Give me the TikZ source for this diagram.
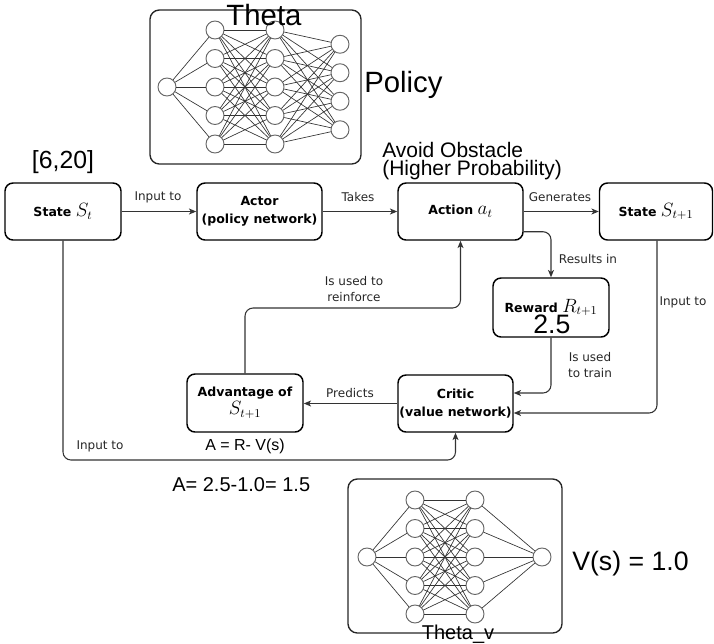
\documentclass[tikz,border=0pt]{standalone}
\usepackage{fontspec}
\setmainfont{Liberation Sans}
\newfontfamily\comic{DejaVu Sans}
\usetikzlibrary{arrows.meta,calc}
\newdimen\px \px=0.75pt
\newcommand{\mth}[1]{{\fontsize{13.5pt}{15pt}\selectfont$#1$}}
\tikzset{
  box/.style={draw=black, line width=1.1pt, rounded corners=6pt, fill=white, inner sep=0pt,
    align=center, font=\comic\bfseries\fontsize{9.4pt}{13.5pt}\selectfont},
  nnbox/.style={draw=black!85, line width=1pt, rounded corners=7pt},
  conn/.style={draw=black!80, line width=0.8pt, rounded corners=6pt, -{Stealth[length=5.5pt,width=4.5pt,inset=1.5pt]}},
  elabel/.style={font=\comic\fontsize{9pt}{12pt}\selectfont, text=black!85, align=center, inner sep=0pt},
  neuron/.style={circle, draw=black!60, line width=0.7pt, fill=white, minimum size=18\px, inner sep=0pt},
  syn/.style={draw=black!80, line width=0.5pt},
  big/.style={inner sep=0pt, font=\fontsize{22pt}{26pt}\selectfont},
}
\begin{document}
\begin{tikzpicture}[x=0.75pt,y=-0.75pt]
\useasboundingbox (0,0) rectangle (714,643);

% ---------- top policy network ----------
\node[nnbox, minimum width=211\px, minimum height=154\px, inner sep=0pt] (pnet) at (255.5,87) {};
\node[neuron] (pi) at (167,87) {};
\foreach \i/\y in {1/30,2/58.5,3/87,4/115.5,5/144}{
  \node[neuron] (pa\i) at (215,\y) {};
  \node[neuron] (pb\i) at (275,\y) {};
}
\foreach \i/\y in {1/44.25,2/72.75,3/101.25,4/129.75}{
  \node[neuron] (pc\i) at (340,\y) {};
}
\foreach \i in {1,...,5}{
  \draw[syn] (pi) -- (pa\i);
  \foreach \j in {1,...,5}{ \draw[syn] (pa\i) -- (pb\j); }
  \foreach \j in {1,...,4}{ \draw[syn] (pb\i) -- (pc\j); }
}
\node[big, anchor=base] (theta) at (264,25) {Theta};
\node[big, anchor=base west] (policy) at (364,92) {Policy};

% ---------- bottom value network ----------
\node[nnbox, minimum width=214\px, minimum height=154\px, inner sep=0pt] (vnet) at (455,556) {};
\node[neuron] (vi) at (367,557) {};
\node[neuron] (vo) at (542,557) {};
\foreach \i/\y in {1/500,2/528.5,3/557,4/585.5,5/614}{
  \node[neuron] (va\i) at (415,\y) {};
  \node[neuron] (vb\i) at (475,\y) {};
}
\foreach \i in {1,...,5}{
  \draw[syn] (vi) -- (va\i);
  \draw[syn] (vb\i) -- (vo);
  \foreach \j in {1,...,5}{ \draw[syn] (va\i) -- (vb\j); }
}
\node[inner sep=0pt, anchor=base, font=\fontsize{15pt}{18pt}\selectfont] (thetav) at (458,639) {Theta\_v};
\node[inner sep=0pt, anchor=base west, font=\fontsize{20pt}{24pt}\selectfont] (vs) at (572,570) {V(s) = 1.0};

% ---------- flow boxes ----------
\node[box, minimum width=116\px, minimum height=57\px] (st) at (63,211.5) {State \mth{S_t}};
\node[box, minimum width=125\px, minimum height=57\px] (actor) at (259.5,211.5) {Actor\\(policy network)};
\node[box, minimum width=125\px, minimum height=57\px] (action) at (460.5,211.5) {Action \mth{a_t}};
\node[box, minimum width=113\px, minimum height=57\px] (st1) at (656,211.5) {State \mth{S_{t+1}}};
\node[box, minimum width=116\px, minimum height=59\px] (reward) at (551,307.5) {Reward \mth{R_{t+1}}};
\node[box, minimum width=115\px, minimum height=57\px] (critic) at (455.5,403.5) {Critic\\(value network)};
\node[box, minimum width=116\px, minimum height=58\px] (adv) at (245,403) {Advantage of\\\mth{S_{t+1}}};

% ---------- connectors ----------
\draw[conn] (st.east) -- (actor.west);
\draw[conn] (actor.east) -- (action.west);
\draw[conn] (action.east) -- (st1.west);
\draw[conn] ($(action.south east)+(0,-9)$) -| (reward.north);
\draw[conn] (reward.south) |- ($(critic.east)+(0,-10.5)$);
\draw[conn] ([xshift=0.75pt]st1.south) |- ($(critic.east)+(0,9.5)$);
\draw[conn] (critic.west) -- (critic.west -| adv.east);
\coordinate (rc) at (300,308);
\draw[conn] (adv.north) |- (rc) -| (action.south);
\coordinate (bc) at (200,460);
\draw[conn] (st.south) |- (bc) -| (critic.south);

% ---------- connector labels ----------
\node[elabel] (l1) at (158,197) {Input to};
\node[elabel] (l2) at (358,197) {Takes};
\node[elabel] (l3) at (560,197) {Generates};
\node[elabel] (l4) at (588,259) {Results in};
\node[elabel] (l5) at (683,302) {Input to};
\node[elabel] (l6) at (590,365) {Is used\\to train};
\node[elabel] (l7) at (354,289) {Is used to\\reinforce};
\node[elabel] (l8) at (350,393) {Predicts};
\node[elabel] (l9) at (100,446) {Input to};

% ---------- annotations ----------
\node[inner sep=0pt, anchor=base, font=\fontsize{18.6pt}{22pt}\selectfont] (state) at (63,168) {[6,20]};
\node[inner sep=0pt, anchor=base west, font=\fontsize{15.75pt}{18pt}\selectfont] (avoid1) at (382,157) {Avoid Obstacle};
\node[inner sep=0pt, anchor=base west, font=\fontsize{15.75pt}{18pt}\selectfont] (avoid2) at (382,175) {(Higher Probability)};
\node[inner sep=0pt, anchor=base west, font=\fontsize{20pt}{24pt}\selectfont] (rval) at (533,333) {2.5};
\node[inner sep=0pt, anchor=base west, font=\fontsize{12pt}{14pt}\selectfont] (aform) at (205,450) {A = R- V(s)};
\node[inner sep=0pt, anchor=base west, font=\fontsize{15pt}{18pt}\selectfont] (acalc) at (172,491) {A= 2.5-1.0= 1.5};
\end{tikzpicture}
\end{document}
